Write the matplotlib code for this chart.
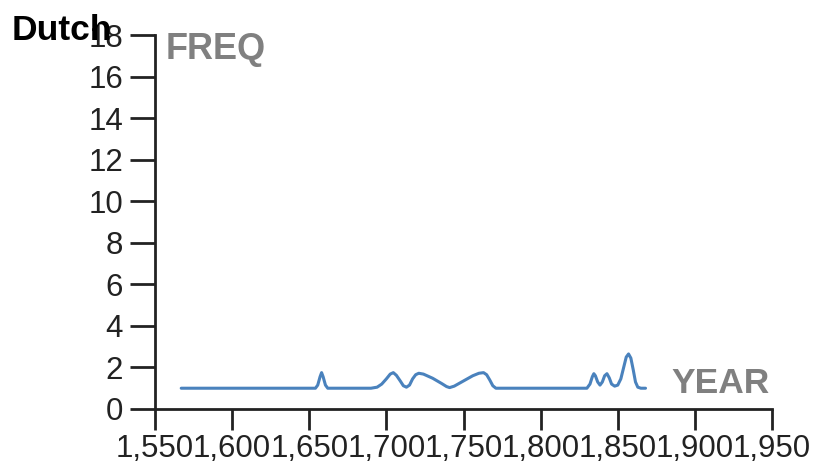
import matplotlib
matplotlib.use("Agg")
from matplotlib import pyplot as plt

# Dutch frequency by year
years = [1567, 1600, 1650, 1654, 1655.5, 1657, 1658, 1659, 1660.5, 1662, 1690, 1694,
         1697, 1700, 1702.5, 1704.5, 1706.5, 1709, 1711, 1713, 1715, 1717, 1719, 1721,
         1724, 1730, 1736, 1739, 1741, 1744, 1750, 1756, 1760, 1763, 1765, 1767, 1769,
         1771, 1800, 1830, 1832, 1833.5, 1834.5, 1835.5, 1837, 1838.5, 1840, 1841.5,
         1843, 1844.5, 1846, 1848, 1850, 1852, 1854, 1855.5, 1857, 1858.5, 1860,
         1861.5, 1863, 1865, 1868]
freq = [1.0, 1.0, 1.0, 1.0, 1.15, 1.55, 1.75, 1.55, 1.15, 1.0, 1.0, 1.05,
        1.2, 1.45, 1.68, 1.75, 1.62, 1.35, 1.12, 1.05, 1.15, 1.45, 1.65, 1.72,
        1.68, 1.48, 1.22, 1.08, 1.03, 1.1, 1.35, 1.6, 1.72, 1.75, 1.65, 1.4, 1.12,
        1.0, 1.0, 1.0, 1.2, 1.55, 1.7, 1.6, 1.3, 1.15, 1.3, 1.6,
        1.7, 1.5, 1.2, 1.1, 1.15, 1.45, 2.05, 2.5, 2.65, 2.45, 1.9,
        1.3, 1.05, 1.0, 1.0]
xticks = list(range(1550, 1951, 50))
yticks = list(range(0, 19, 2))

plt.rcParams['font.family'] = ['Liberation Sans', 'DejaVu Sans']

fig = plt.figure(figsize=(8.13, 4.63), dpi=100)
ax = fig.add_axes([155/813, 54/463, (772-155)/813, (409-35)/463])

ax.plot(years, freq, color='#4a82bd', lw=2.2, solid_joinstyle='round', solid_capstyle='round')

ax.set_xlim(1550, 1950)
ax.set_ylim(0, 18)
ax.set_xticks(xticks)
ax.set_xticklabels(['{:,}'.format(t) for t in xticks])
ax.set_yticks(yticks)
for s in ['top', 'right']:
    ax.spines[s].set_visible(False)
for s in ['left', 'bottom']:
    ax.spines[s].set_linewidth(2)
    ax.spines[s].set_color('#222222')
ax.tick_params(axis='both', length=15, width=2, color='#222222', labelsize=22.5,
               labelcolor='#222222')
ax.tick_params(axis='y', length=18, pad=5)
ax.tick_params(axis='x', pad=3)

fig.text(12/813, 1 - 40/463, 'Dutch', fontsize=25.5, fontweight='bold', color='black')
fig.text(166/813, 1 - 59/463, 'FREQ', fontsize=26, fontweight='bold', color='#808080')
fig.text(671/813, 1 - 393/463, 'YEAR', fontsize=25.5, fontweight='bold', color='#808080')

fig.savefig('out.png', dpi=100)
